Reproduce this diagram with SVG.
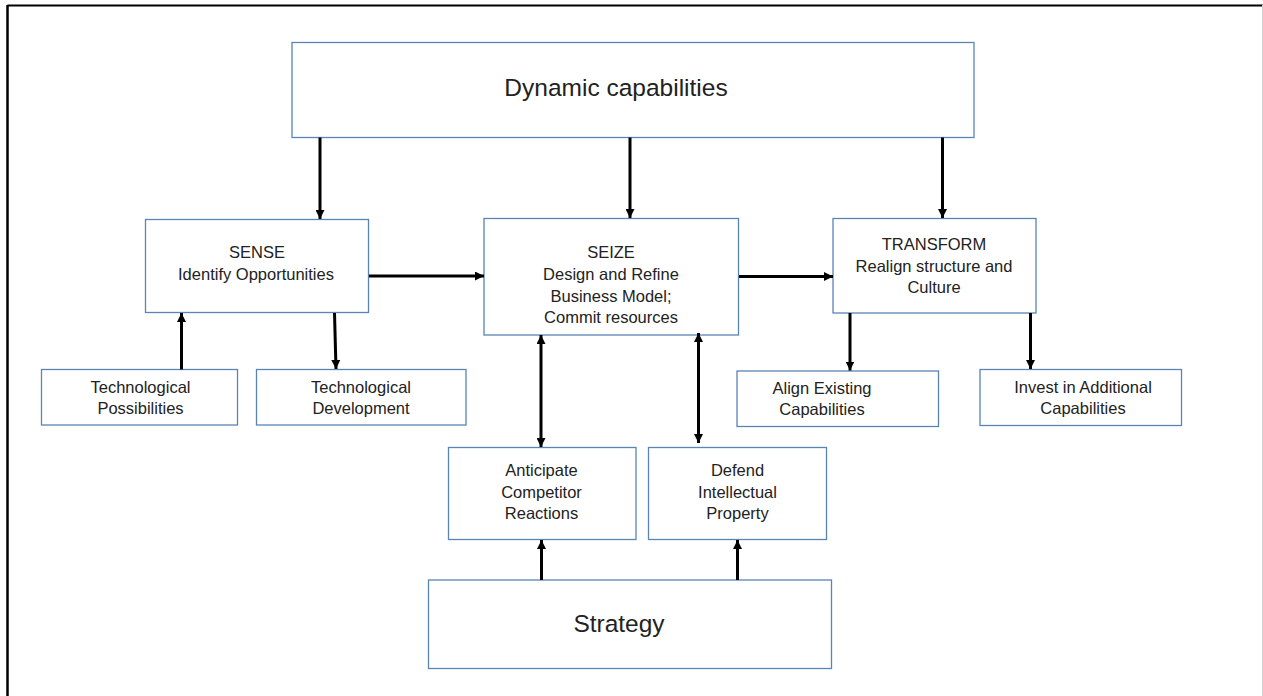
<svg xmlns="http://www.w3.org/2000/svg" width="1263" height="696" viewBox="0 0 1263 696">
<style>
.box{fill:#fff;stroke:#5a84b4;stroke-width:1.3}
.t{font-family:"Liberation Sans",Arial,sans-serif;font-size:16.5px;fill:#222;text-anchor:middle}
.big{font-size:24.5px}
.c{stroke:#000;stroke-width:3;fill:none}
</style>
<defs>
<marker id="ah" viewBox="0 0 10 10" refX="10" refY="5" markerUnits="userSpaceOnUse" markerWidth="9" markerHeight="9" orient="auto-start-reverse">
<path d="M0,0 L10,5 L0,10 z" fill="#000"/>
</marker>
</defs>
<rect width="1263" height="696" fill="#fff"/>
<g id="frame">
<line x1="7.5" y1="5.5" x2="1263" y2="5.5" stroke="#000" stroke-width="2"/>
<line x1="7.5" y1="5" x2="7.5" y2="696" stroke="#000" stroke-width="2.5"/>
<line x1="1262.5" y1="5" x2="1262.5" y2="696" stroke="#d0d0d0" stroke-width="1"/>
</g>
<g id="dynamic">
<rect class="box" x="292" y="42.5" width="682" height="95"/>
<text class="t big" x="616" y="96">Dynamic capabilities</text>
</g>
<g id="sense">
<rect class="box" x="145.5" y="219.5" width="223" height="93"/>
<text class="t" x="257" y="258">SENSE</text>
<text class="t" x="256" y="280">Identify Opportunities</text>
</g>
<g id="seize">
<rect class="box" x="484" y="218.5" width="254.5" height="116.5"/>
<text class="t" x="611" y="258">SEIZE</text>
<text class="t" x="611" y="280">Design and Refine</text>
<text class="t" x="611" y="301.5">Business Model;</text>
<text class="t" x="611" y="323">Commit resources</text>
</g>
<g id="transform">
<rect class="box" x="833" y="218.5" width="203" height="94.5"/>
<text class="t" x="934" y="250">TRANSFORM</text>
<text class="t" x="934" y="271.5">Realign structure and</text>
<text class="t" x="934" y="292.5">Culture</text>
</g>
<g id="techposs">
<rect class="box" x="41.5" y="369.5" width="196" height="55.5"/>
<text class="t" x="140.5" y="392.5">Technological</text>
<text class="t" x="140.5" y="414">Possibilities</text>
</g>
<g id="techdev">
<rect class="box" x="256.5" y="369.5" width="209.5" height="55.5"/>
<text class="t" x="361" y="392.5">Technological</text>
<text class="t" x="361" y="414">Development</text>
</g>
<g id="align">
<rect class="box" x="737" y="371" width="201.5" height="55.5"/>
<text class="t" x="822" y="393.5">Align Existing</text>
<text class="t" x="822" y="414.5">Capabilities</text>
</g>
<g id="invest">
<rect class="box" x="980" y="369.5" width="201.5" height="56"/>
<text class="t" x="1083" y="392.5">Invest in Additional</text>
<text class="t" x="1083" y="413.5">Capabilities</text>
</g>
<g id="anticipate">
<rect class="box" x="448.5" y="447.5" width="187.5" height="92"/>
<text class="t" x="541.5" y="476">Anticipate</text>
<text class="t" x="541.5" y="497.5">Competitor</text>
<text class="t" x="541.5" y="519">Reactions</text>
</g>
<g id="defend">
<rect class="box" x="648.5" y="447.5" width="178" height="92"/>
<text class="t" x="737.5" y="476">Defend</text>
<text class="t" x="737.5" y="497.5">Intellectual</text>
<text class="t" x="737.5" y="519">Property</text>
</g>
<g id="strategy">
<rect class="box" x="428.5" y="580" width="403" height="88.5"/>
<text class="t big" x="619" y="632">Strategy</text>
</g>
<g id="connectors">
<line class="c" x1="320" y1="137.5" x2="320" y2="219" marker-end="url(#ah)"/>
<line class="c" x1="630" y1="137.5" x2="630" y2="218" marker-end="url(#ah)"/>
<line class="c" x1="942.5" y1="137.5" x2="942.5" y2="218" marker-end="url(#ah)"/>
<line class="c" x1="369" y1="276" x2="484" y2="276" marker-end="url(#ah)"/>
<line class="c" x1="739" y1="276.5" x2="833" y2="276.5" marker-end="url(#ah)"/>
<line class="c" x1="181.5" y1="369.5" x2="181.5" y2="313" marker-end="url(#ah)"/>
<line class="c" x1="334.5" y1="313" x2="336" y2="369" marker-end="url(#ah)"/>
<line class="c" x1="850" y1="313" x2="850" y2="370.5" marker-end="url(#ah)"/>
<line class="c" x1="1030.5" y1="313" x2="1030.5" y2="369" marker-end="url(#ah)"/>
<line class="c" x1="541" y1="335" x2="541" y2="447" marker-start="url(#ah)" marker-end="url(#ah)"/>
<line class="c" x1="698.5" y1="333" x2="698.5" y2="443" marker-start="url(#ah)" marker-end="url(#ah)"/>
<line class="c" x1="541.5" y1="580" x2="541.5" y2="540" marker-end="url(#ah)"/>
<line class="c" x1="737.5" y1="580" x2="737.5" y2="540" marker-end="url(#ah)"/>
</g>
</svg>
